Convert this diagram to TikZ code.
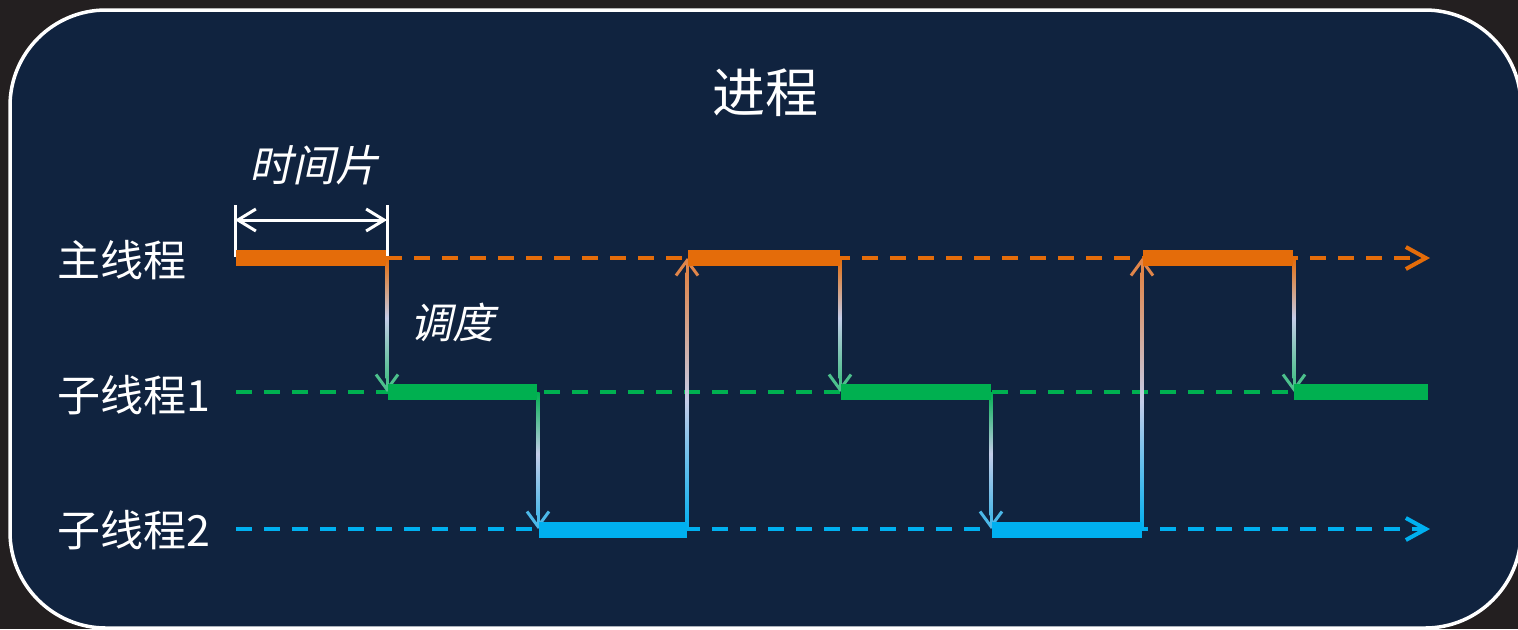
\documentclass[tikz,border=0pt]{standalone}
\usepackage{fontspec}
\setmainfont{Noto Sans CJK SC}
\newfontfamily\slantfont{Noto Sans CJK SC}[FakeSlant=0.22]
\usetikzlibrary{arrows.meta}
\definecolor{outbg}{HTML}{231F20}
\definecolor{panel}{HTML}{10233F}
\definecolor{ora}{HTML}{E46C0A}
\definecolor{grn}{HTML}{00B050}
\definecolor{blu}{HTML}{00B0F0}
\definecolor{pale}{HTML}{C4CCE8}
\definecolor{orahead}{HTML}{E0854A}
\definecolor{grnhead}{HTML}{4CC08C}
\definecolor{bluhead}{HTML}{4CB8E8}
\tikzset{
  lbl/.style={text=white, inner sep=0pt, font=\fontsize{21.5pt}{24pt}\selectfont},
  dashln/.style={line width=2.3pt, dash pattern=on 8pt off 6pt},
  endtip/.style={-{Straight Barb[length=10pt,width=11pt,line width=2pt]}},
  vtip/.style={-{Straight Barb[length=7.5pt,width=11pt,line width=1.5pt]}, line width=1.5pt},
  tstip/.style={{Straight Barb[length=9pt,width=11pt,line width=1.5pt]}-{Straight Barb[length=9pt,width=11pt,line width=1.5pt]}, line width=1.5pt, white},
}
% vertical gradient connector: x, y-start, y-end, start colour, end colour
\newcommand\vflow[5]{%
  \ifdim #2pt<#3pt
    \shade[top color=#4, bottom color=#5, middle color=pale] (#1-1.5,#2) rectangle (#1+1.5,#3-14);
    \draw[vtip, #5] (#1,#3-16) -- (#1,#3);
  \else
    \shade[bottom color=#4, top color=#5, middle color=pale] (#1-1.5,#3+14) rectangle (#1+1.5,#2);
    \draw[vtip, #5] (#1,#3+16) -- (#1,#3);
  \fi}
\begin{document}
\begin{tikzpicture}[x=0.5pt,y=-0.5pt]
\useasboundingbox (0,0) rectangle (1518,629);
\fill[outbg] (0,0) rectangle (1518,629);
\begin{scope}
\clip (0,0) rectangle (1518,629);
\draw[white, line width=1.75pt, fill=panel, rounded corners=48pt] (10,10) rectangle (1521,628);
\end{scope}

% title and labels
\node[lbl, font=\fontsize{26.5pt}{30pt}\selectfont] (title) at (765,93) {进程};
\node[lbl, font=\fontsize{21.5pt}{24pt}\slantfont] (slice) at (314,165) {时间片};
\node[lbl, font=\fontsize{21pt}{24pt}\slantfont] (sched) at (452,322) {调度};
\node[lbl, anchor=west] (main) at (57,260) {主线程};
\node[lbl, anchor=west] (t1) at (57,395) {子线程1};
\node[lbl, anchor=west] (t2) at (57,530) {子线程2};

% time slice marker
\coordinate (tsA) at (235,220);
\coordinate (tsB) at (387,220);
\draw[white, line width=1.5pt] (235,205) -- (235,257);
\draw[white, line width=1.5pt] (387,205) -- (387,257);
\draw[tstip] (tsA) -- (tsB);

% dashed timelines
\coordinate (mS) at (386,258);  \coordinate (mE) at (1430,258);
\coordinate (aS) at (236,392);  \coordinate (aE) at (1294,392);
\coordinate (bS) at (236,529);  \coordinate (bE) at (1430,529);
\draw[dashln, ora, endtip] (mS) -- (mE);
\draw[dashln, grn] (aS) -- (aE);
\draw[dashln, blu, endtip] (bS) -- (bE);

% connectors
\vflow{387}{258}{392}{ora}{grnhead}
\vflow{538}{392}{529}{grn}{bluhead}
\vflow{687}{530}{258}{blu}{orahead}
\vflow{840}{258}{392}{ora}{grnhead}
\vflow{991}{392}{529}{grn}{bluhead}
\vflow{1142}{530}{258}{blu}{orahead}
\vflow{1294}{258}{392}{ora}{grnhead}

% run bars
\fill[ora] (236,250) rectangle (386,266);
\fill[ora] (688,250) rectangle (840,266);
\fill[ora] (1143,250) rectangle (1293,266);
\fill[grn] (388,384) rectangle (537,400);
\fill[grn] (841,384) rectangle (991,400);
\fill[grn] (1294,384) rectangle (1428,400);
\fill[blu] (539,522) rectangle (687,538);
\fill[blu] (992,522) rectangle (1142,538);
\end{tikzpicture}
\end{document}
